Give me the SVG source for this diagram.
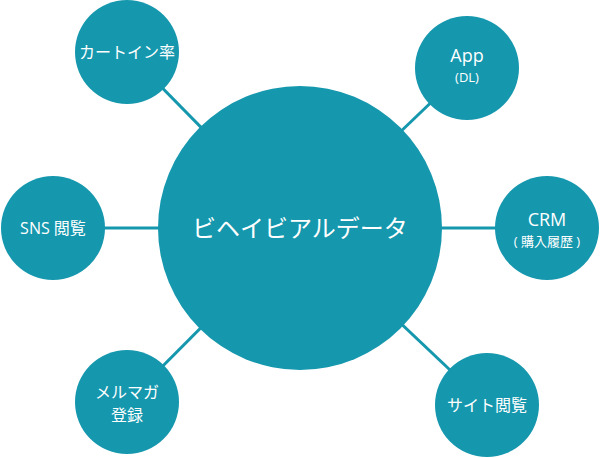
<svg xmlns="http://www.w3.org/2000/svg" width="600" height="458" viewBox="0 0 600 458">
<style>
.n{fill:#1597ae}
.c{stroke:#1597ae;stroke-width:3}
text{fill:#fff;font-family:"Open Sans","Noto Sans CJK JP",sans-serif;text-anchor:middle}
.s{font-size:16px}
</style>
<rect width="600" height="458" fill="#fff"/>
<g id="connectors">
<line class="c" x1="127" y1="52" x2="300" y2="228"/>
<line class="c" x1="467" y1="68" x2="300" y2="228"/>
<line class="c" x1="53" y1="228" x2="300" y2="228"/>
<line class="c" x1="547" y1="228" x2="300" y2="228"/>
<line class="c" x1="127" y1="402" x2="300" y2="228"/>
<line class="c" x1="487" y1="405" x2="300" y2="228"/>
</g>
<g id="center"><circle class="n" cx="300" cy="228" r="142"/><text x="300" y="237" font-size="24">ビヘイビアルデータ</text></g>
<g id="cart"><circle class="n" cx="127" cy="52" r="52"/><text class="s" x="127" y="58">カートイン率</text></g>
<g id="app"><circle class="n" cx="467" cy="68" r="52"/><text x="467" y="62" font-size="18">App</text><text x="467" y="82" font-size="13">(DL)</text></g>
<g id="sns"><circle class="n" cx="53" cy="228" r="52"/><text class="s" x="53" y="234">SNS 閲覧</text></g>
<g id="crm"><circle class="n" cx="547" cy="228" r="52"/><text x="547" y="226" font-size="18">CRM</text><text x="547" y="246" font-size="13">( 購入履歴 )</text></g>
<g id="mail"><circle class="n" cx="127" cy="402" r="52"/><text class="s" x="127" y="398">メルマガ</text><text class="s" x="127" y="421">登録</text></g>
<g id="site"><circle class="n" cx="487" cy="405" r="52"/><text class="s" x="487" y="411">サイト閲覧</text></g>
</svg>
